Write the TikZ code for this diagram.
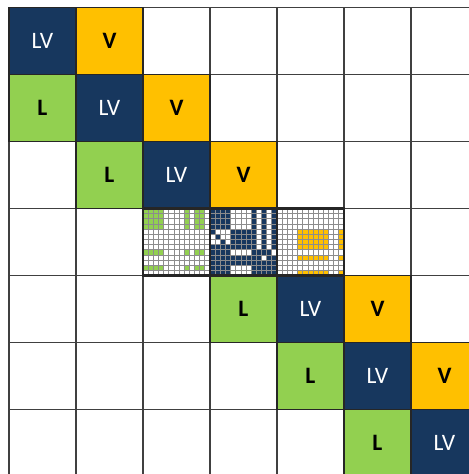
\documentclass[tikz,border=0pt]{standalone}
\usepackage{fontspec}
\setmainfont{Carlito}
\usepackage{tikz}
\usetikzlibrary{positioning}
\definecolor{navy}{RGB}{23,55,94}
\definecolor{amber}{RGB}{255,192,0}
\definecolor{lime}{RGB}{146,208,80}

\begin{document}
\begin{tikzpicture}[
    x=1cm, y=-1cm,
    gridline/.style={draw=black!75, line width=0.6pt},
    fineline/.style={draw=black!45, line width=0.3pt},
    cellbox/.style={rectangle, draw=black!85, line width=0.6pt, minimum size=1cm, inner sep=0pt, outer sep=0pt, font=\fontsize{10}{12}\selectfont},
    lvbox/.style={cellbox, fill=navy, text=white},
    vbox/.style={cellbox, fill=amber, font=\fontsize{10}{12}\selectfont\bfseries},
    lbox/.style={cellbox, fill=lime, font=\fontsize{10}{12}\selectfont\bfseries},
  ]
    \useasboundingbox (-0.134,-0.112) rectangle (6.866,6.963);

    % coarse 7x7 block grid
    \foreach \k in {0,...,7} {
      \draw[gridline] (\k,0) -- (\k,7);
      \draw[gridline] (0,\k) -- (7,\k);
    }

    % block rows: L | LV | V
    \foreach \r in {0,1,2,4,5,6}
      \node[lvbox] (lv\r) at (\r+0.5,\r+0.5) {LV};
    \foreach \r in {0,1,2,4,5}
      \node[vbox, right=0pt of lv\r] (v\r) {V};
    \foreach \r in {1,2,4,5,6}
      \node[lbox, left=0pt of lv\r] (l\r) {L};

    % row 3: the three blocks shown entry by entry (13x13 each)
    \fill[white] (2,3) rectangle (5,4);
    % L block
    \foreach \i in {0,1,2,3,8,11}
      \foreach \j in {0,1,2,3,8,10,11}
        \fill[lime] ({2+\j/13},{3+\i/13}) rectangle ++(1/13,1/13);
    % LV block: dark, then its zero entries
    \fill[navy] (3,3) rectangle (4,4);
    \foreach \i/\j in {0/4,0/5,0/6,0/7,1/4,1/5,1/6,1/7,2/4,2/5,2/6,2/7,3/4,3/5,3/6,3/7,
                       4/1,4/2,4/3,5/0,5/2,5/3,6/0,6/1,6/3,
                       8/4,8/5,8/6,8/7,9/10,8/12,
                       11/4,11/5,11/6,11/7,12/4,12/5,12/6,12/7}
      \fill[white] ({3+\j/13},{3+\i/13}) rectangle ++(1/13,1/13);
    \foreach \i in {0,...,7} {
      \fill[white] ({3+9/13},{3+\i/13}) rectangle ++(1/13,1/13);
      \fill[white] ({3+11/13},{3+\i/13}) rectangle ++(1/13,1/13);
    }
    % V block
    \foreach \i in {4,5,6,7,9,12}
      \foreach \j in {4,5,6,7,8,9,12}
        \fill[amber] ({4+\j/13},{3+\i/13}) rectangle ++(1/13,1/13);

    % fine entry grid
    \foreach \k in {1,...,38}
      \draw[fineline] ({2+\k/13},3) -- ({2+\k/13},4);
    \foreach \k in {1,...,12}
      \draw[fineline] (2,{3+\k/13}) -- (5,{3+\k/13});
    \draw[black!85, line width=0.9pt] (2,3) rectangle (5,4);
    \draw[black!85, line width=0.9pt] (3,3) -- (3,4) (4,3) -- (4,4);
  \end{tikzpicture}
\end{document}
